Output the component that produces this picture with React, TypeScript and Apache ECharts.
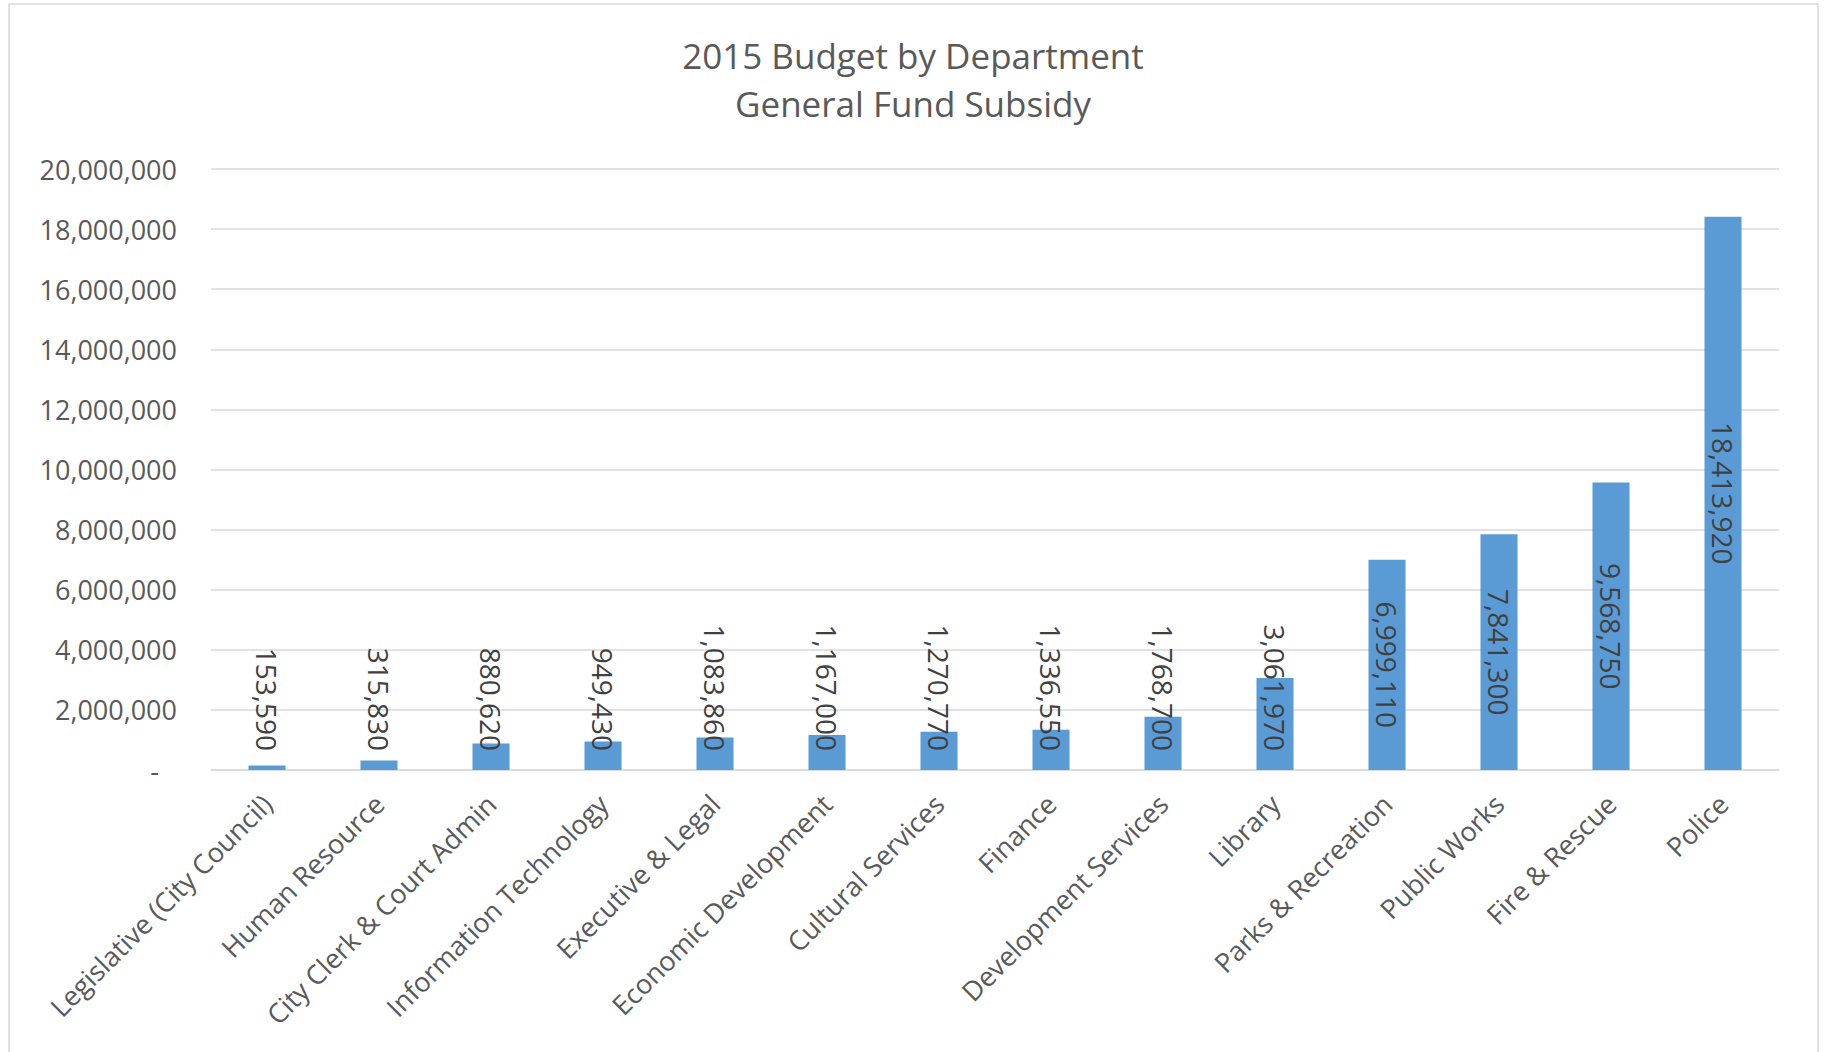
import React, { useEffect, useRef } from "react";
import * as echarts from "echarts";

const titleLines = ["2015 Budget by Department", "General Fund Subsidy"];
const categories = [
  "Legislative (City Council)",
  "Human Resource",
  "City Clerk & Court Admin",
  "Information Technology",
  "Executive & Legal",
  "Economic Development",
  "Cultural Services",
  "Finance",
  "Development Services",
  "Library",
  "Parks & Recreation",
  "Public Works",
  "Fire & Rescue",
  "Police",
];
const values = [
  153590, 315830, 880620, 949430, 1083860, 1167000, 1270770, 1336550, 1768700,
  3061970, 6999110, 7841300, 9568750, 18413920,
];
const yMin = 0;
const yMax = 20000000;
const yInterval = 2000000;

const FONT = "'Open Sans', 'Noto Sans', sans-serif";
const W = 1826;
const H = 1052;
const GRID = { left: 211, right: 47, top: 169, bottom: 282 };
const AXIS_SIZE = 27;
const VALUE_SIZE = 28;

const fmt = (v: number) => v.toLocaleString("en-US");

export default function App() {
  const ref = useRef<HTMLDivElement>(null);
  useEffect(() => {
    if (!ref.current) return;
    const chart = echarts.init(ref.current, null, { renderer: "svg" });
    const plotH = H - GRID.top - GRID.bottom;
    const data = values.map((v) => {
      const barPx = ((v - yMin) / (yMax - yMin)) * plotH;
      const labelPx = fmt(v).length * VALUE_SIZE * 0.56 + 12;
      const fits = barPx >= labelPx;
      return {
        value: v,
        label: fits
          ? { position: "inside", rotate: -90, align: "center", verticalAlign: "middle" }
          : { position: "insideBottom", distance: 19, rotate: -90, align: "right", verticalAlign: "middle" },
      };
    });
    chart.setOption({
      animation: false,
      backgroundColor: "#ffffff",
      textStyle: { fontFamily: FONT },
      title: {
        text: titleLines.join("\n"),
        left: "center",
        top: 26,
        textStyle: {
          fontFamily: FONT,
          fontSize: 35,
          fontWeight: "normal",
          color: "#595959",
          lineHeight: 48,
        },
      },
      graphic: [
        {
          type: "rect",
          shape: { x: 9, y: 4, width: 1809, height: 1200 },
          style: { fill: "none", stroke: "#d9d9d9", lineWidth: 1.5 },
          silent: true,
        },
      ],
      grid: { ...GRID, containLabel: false },
      xAxis: {
        type: "category",
        data: categories,
        offset: 5,
        axisTick: { show: false },
        axisLine: { lineStyle: { color: "#d9d9d9", width: 1.5 } },
        axisLabel: {
          rotate: 45,
          interval: 0,
          margin: 24,
          fontSize: AXIS_SIZE,
          color: "#595959",
          fontFamily: FONT,
        },
      },
      yAxis: {
        type: "value",
        min: yMin,
        max: yMax,
        interval: yInterval,
        axisLine: { show: false },
        axisTick: { show: false },
        splitLine: { lineStyle: { color: "#d9d9d9", width: 1.5 } },
        axisLabel: {
          margin: 34,
          fontSize: AXIS_SIZE,
          color: "#595959",
          fontFamily: FONT,
          formatter: (v: number) => (v === 0 ? "{z|-}" : fmt(v)),
          rich: {
            z: { fontSize: AXIS_SIZE, color: "#595959", fontFamily: FONT, padding: [0, 18, 0, 0] },
          },
        },
      },
      series: [
        {
          type: "bar",
          data,
          barWidth: 37,
          itemStyle: { color: "#5b9bd5" },
          label: {
            show: true,
            fontSize: VALUE_SIZE,
            color: "#404040",
            fontFamily: FONT,
            formatter: (p: any) => fmt(p.value),
          },
        },
      ],
    });
    return () => chart.dispose();
  }, []);
  return (
    <div
      ref={ref}
      style={{ position: "fixed", left: 0, top: 0, width: W, height: H, background: "#fff" }}
    />
  );
}
